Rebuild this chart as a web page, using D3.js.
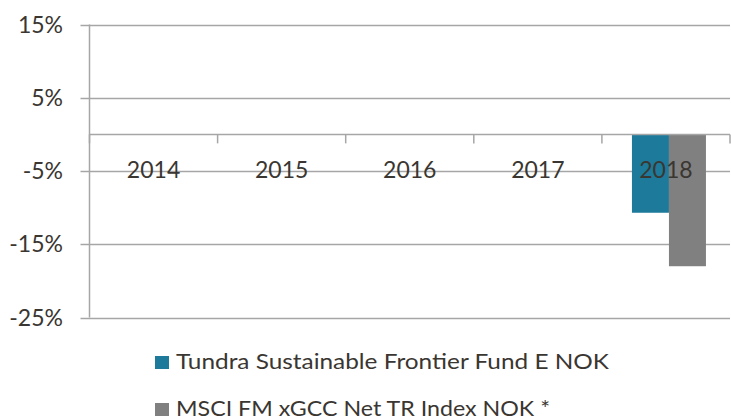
<!DOCTYPE html>
<html><head><meta charset="utf-8">
<script src="https://cdn.jsdelivr.net/npm/d3@7"></script>
<style>body{margin:0;background:#fff;} svg{display:block;}</style>
</head><body>
<svg id="c" width="731" height="419"></svg>
<script>
const years = ["2014","2015","2016","2017","2018"];
const seriesNames = ["Tundra Sustainable Frontier Fund E NOK","MSCI FM xGCC Net TR Index NOK *"];
const fundValues = [null,null,null,null,-10.7];
const indexValues = [null,null,null,null,-18.0];
const yTicks = [-25,-15,-5,5,15];
const colors = ["#1d7a9a","#808080"];

(function(){
const svg = d3.select("#c");
const font = "Lato, 'Open Sans', sans-serif";
const textColor = "#3a3631";
const gridColor = "#a6a6a6";
const pLeft = 89.5, pRight = 730, pTop = 24.5, pBottom = 317.5;

const y = d3.scaleLinear().domain([-25,15]).range([pBottom, pTop]);
const x = d3.scaleBand().domain(years).range([pLeft, pRight]);
const xs = d3.scaleBand().domain([0,1]).range([0, 74]);

svg.selectAll("line.grid").data(yTicks).enter().append("line")
  .attr("x1", pLeft - 9).attr("x2", pRight)
  .attr("y1", d => Math.round(y(d)) + 0.5).attr("y2", d => Math.round(y(d)) + 0.5)
  .attr("stroke", gridColor).attr("stroke-width", 1.5);

svg.selectAll("text.yl").data(yTicks).enter().append("text")
  .attr("x", 63).attr("y", d => y(d) + 8)
  .attr("text-anchor", "end").attr("font-family", font).attr("font-size", 23)
  .attr("fill", textColor).text(d => d + "%");

const data = [fundValues, indexValues];
data.forEach((vals, si) => {
  svg.selectAll("rect.s" + si).data(years.map((yr, i) => ({yr, v: vals[i]})).filter(d => d.v !== null))
    .enter().append("rect")
    .attr("x", d => x(d.yr) + x.bandwidth()/2 - 37 + xs(si) + 3)
    .attr("width", xs.bandwidth())
    .attr("y", y(0))
    .attr("height", d => y(d.v) - y(0))
    .attr("fill", colors[si]);
});

svg.append("line").attr("x1", pLeft).attr("x2", pLeft).attr("y1", pTop).attr("y2", pBottom)
  .attr("stroke", gridColor).attr("stroke-width", 1.5);

const y0 = y(0);
svg.append("line").attr("x1", pLeft).attr("x2", pRight).attr("y1", y0).attr("y2", y0)
  .attr("stroke", gridColor).attr("stroke-width", 1.5);
const bounds = years.map(d => x(d)).concat([pRight]);
svg.selectAll("line.xt").data(bounds).enter().append("line")
  .attr("x1", d => d).attr("x2", d => d).attr("y1", y0).attr("y2", y0 + 9)
  .attr("stroke", gridColor).attr("stroke-width", 1.5);

svg.selectAll("text.xl").data(years).enter().append("text")
  .attr("x", d => x(d) + x.bandwidth()/2).attr("y", y0 + 43.5)
  .attr("text-anchor", "middle").attr("font-family", font).attr("font-size", 23)
  .attr("fill", textColor).text(d => d);

const legY = [369, 416];
const legW = [433, 374];
seriesNames.forEach((n, i) => {
  svg.append("rect").attr("x", 155).attr("y", legY[i] - 13).attr("width", 14).attr("height", 13)
    .attr("fill", colors[i]);
  svg.append("text").attr("x", 176).attr("y", legY[i])
    .attr("font-family", font).attr("font-size", 21.5).attr("fill", textColor)
    .attr("textLength", legW[i]).attr("lengthAdjust", "spacingAndGlyphs").text(n);
});
})();
</script>
</body></html>
